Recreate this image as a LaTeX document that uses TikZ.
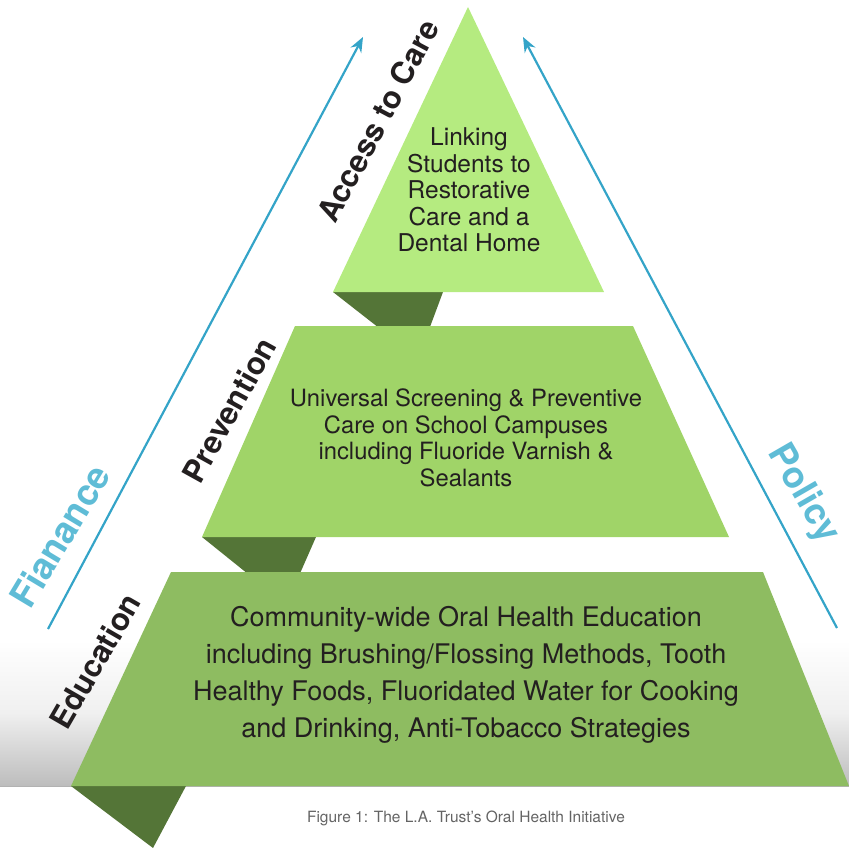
\documentclass[tikz,border=0pt]{standalone}
\usepackage{fontspec}
\setmainfont{TeX Gyre Heros}
\usetikzlibrary{arrows.meta}
\definecolor{tiertop}{RGB}{181,235,128}
\definecolor{tiermid}{RGB}{160,212,104}
\definecolor{tierbot}{RGB}{142,188,97}
\definecolor{shadowgreen}{RGB}{84,117,55}
\definecolor{arrowblue}{RGB}{52,164,200}
\definecolor{labelblue}{RGB}{95,188,214}
\definecolor{textdark}{RGB}{35,31,32}
\definecolor{captiongray}{RGB}{100,100,100}
\tikzset{
  tiertext/.style={text=textdark, align=center, inner sep=0pt},
  sidelabel/.style={text=textdark, font=\bfseries\fontsize{31}{34}\selectfont, inner sep=0pt},
  bluelabel/.style={text=labelblue, font=\bfseries\fontsize{36.5}{40}\selectfont, inner sep=0pt},
  bluearrow/.style={draw=arrowblue, line width=2.2pt, -{Stealth[length=15pt,width=12pt]}},
  shadowpart/.style={fill=shadowgreen, draw=none}
}
\begin{document}
\begin{tikzpicture}[x=1pt,y=-1pt]
\useasboundingbox (0,0) rectangle (849,848);
% background gradient band
\shade[top color=white, bottom color=black!26, middle color=black!6] (0,640) rectangle (849,786);
\draw[black!30, line width=1.5pt] (0,786.5) -- (849,786.5);
% shadows
\fill[shadowpart] (333,292) -- (443,292) -- (427,335) -- (388,335) -- cycle;
\fill[shadowpart] (202,537) -- (316,537) -- (298,578) -- (253,578) -- cycle;
\fill[shadowpart] (71,786) -- (186,786) -- (153,848) -- cycle;
% tiers
\fill[tiertop] (468,7) -- (604,292) -- (333,292) -- cycle;
\fill[tiermid] (295,326) -- (633,326) -- (729,537) -- (202,537) -- cycle;
\fill[tierbot] (171,572) -- (763,572) -- (849,786) -- (71,786) -- cycle;
% arrows
\coordinate (lstart) at (48,629);
\coordinate (lend) at (363,37);
\coordinate (rstart) at (837,628);
\coordinate (rend) at (523,37);
\draw[bluearrow] (lstart) -- (lend);
\draw[bluearrow] (rstart) -- (rend);
% tier texts
\node[tiertext, font=\fontsize{24.5}{26.5}\selectfont] (toptext) at (469,190)
  {Linking\\Students to\\Restorative\\Care and a\\Dental Home};
\node[tiertext, font=\fontsize{23.8}{26.5}\selectfont] (midtext) at (466,438)
  {Universal Screening \& Preventive\\Care on School Campuses\\including Fluoride Varnish \&\\Sealants};
\node[tiertext, font=\fontsize{27}{37}\selectfont] (bottext) at (466,675)
  {Community-wide Oral Health Education\\including Brushing/Flossing Methods, Tooth\\Healthy Foods, Fluoridated Water for Cooking\\and Drinking, Anti-Tobacco Strategies};
% side labels
\node[sidelabel, rotate=62] (access) at (378,121) {Access to Care};
\node[sidelabel, rotate=61] (prevention) at (229,410) {Prevention};
\node[sidelabel, rotate=60] (education) at (95,661) {Education};
\node[bluelabel, rotate=59] (finance) at (60,536) {Fianance};
\node[bluelabel, rotate=-60] (policy) at (803,494) {Policy};
% caption
\node[text=captiongray, font=\fontsize{15.5}{18}\selectfont, inner sep=0pt] (caption) at (466,818)
  {Figure 1: The L.A. Trust’s Oral Health Initiative};
\end{tikzpicture}
\end{document}
